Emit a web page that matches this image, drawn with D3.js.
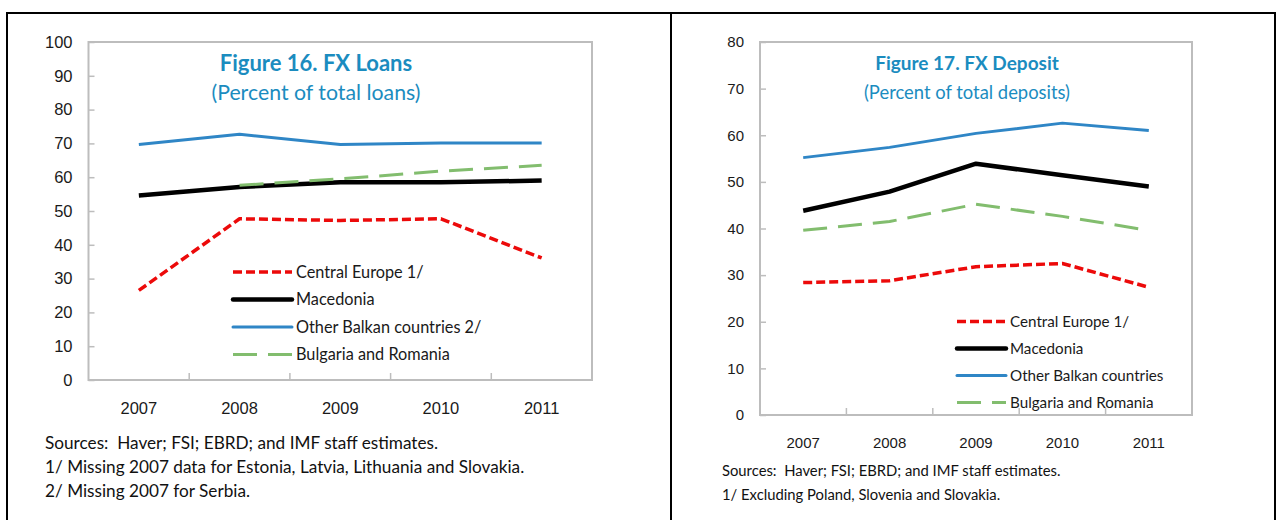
<!DOCTYPE html>
<html>
<head>
<meta charset="utf-8">
<script src="https://cdn.jsdelivr.net/npm/d3@7"></script>
<style>
  html, body { margin: 0; padding: 0; background: #fff; }
  svg { display: block; font-family: Lato, "Open Sans", sans-serif; }
</style>
</head>
<body>
<div id="chart"></div>
<script>
// Categories and values.
const years = ["2007", "2008", "2009", "2010", "2011"];

const loansCentralEurope = [26.5, 47.7, 47.2, 47.7, 36.1];
const loansMacedonia = [54.6, 57.1, 58.5, 58.5, 59.0];
const loansOtherBalkan = [69.7, 72.7, 69.7, 70.1, 70.1];
const loansBulgariaRomania = [null, 57.6, 59.5, 61.8, 63.5];

const depositsCentralEurope = [28.4, 28.8, 31.8, 32.5, 27.4];
const depositsMacedonia = [43.8, 47.9, 53.9, 51.4, 49.0];
const depositsOtherBalkan = [55.2, 57.4, 60.4, 62.6, 61.0];
const depositsBulgariaRomania = [39.6, 41.5, 45.2, 42.6, 39.6];

const loansTicks = [0, 10, 20, 30, 40, 50, 60, 70, 80, 90, 100];
const depositsTicks = [0, 10, 20, 30, 40, 50, 60, 70, 80];

const loansLegend = ["Central Europe 1/", "Macedonia", "Other Balkan countries 2/", "Bulgaria and Romania"];
const depositsLegend = ["Central Europe 1/", "Macedonia", "Other Balkan countries", "Bulgaria and Romania"];

const loansNotes = [
  "Sources:  Haver; FSI; EBRD; and IMF staff estimates.",
  "1/ Missing 2007 data for Estonia, Latvia, Lithuania and Slovakia.",
  "2/ Missing 2007 for Serbia."
];
const depositsNotes = [
  "Sources:  Haver; FSI; EBRD; and IMF staff estimates.",
  "1/ Excluding Poland, Slovenia and Slovakia."
];

// line styles, same order as the legends
const styles = [
  {color: "#ec0a0a", width: 3.5, dash: "9,4"},
  {color: "#000000", width: 4.5, dash: null},
  {color: "#2f86c6", width: 3, dash: null},
  {color: "#82bd6e", width: 3, dash: "24,11"}
];

const width = 1278;
const height = 520;
const titleColor = "#1b8cbf";

const svg = d3.select("#chart")
  .append("svg")
  .attr("width", width)
  .attr("height", height)
  .attr("viewBox", [0, 0, width, height]);

svg.append("rect").attr("width", width).attr("height", height).attr("fill", "#fff");

// outer frame (open at the bottom)
svg.append("path")
  .attr("d", "M7,520 V13 H1275 V520 M671,13 V520")
  .attr("fill", "none")
  .attr("stroke", "#000")
  .attr("stroke-width", 2);

function drawPanel(opt) {
  const f = opt.fonts;
  const g = svg.append("g");

  const x = d3.scaleBand()
    .domain(years)
    .range([opt.left, opt.right]);

  const y = d3.scaleLinear()
    .domain([0, opt.max])
    .range([opt.bottom, opt.top]);

  // plot area border
  g.append("rect")
    .attr("x", opt.left)
    .attr("y", opt.top)
    .attr("width", opt.right - opt.left)
    .attr("height", opt.bottom - opt.top)
    .attr("fill", "none")
    .attr("stroke", "#bdbdbd")
    .attr("stroke-width", 2);

  // y axis, ticks point into the plot
  const gy = g.append("g")
    .attr("transform", `translate(${opt.left},0)`)
    .call(d3.axisLeft(y).tickValues(opt.ticks).tickSize(-6).tickPadding(16).tickFormat(d3.format("d")));
  gy.select(".domain").remove();
  gy.selectAll(".tick line").attr("stroke", "#bdbdbd").attr("stroke-width", 1.5);
  gy.selectAll(".tick text")
    .attr("fill", "#1a1a1a")
    .style("font-size", f.tick + "px");

  // x axis labels under the band centres
  const gx = g.append("g")
    .attr("transform", `translate(0,${opt.xLabelY})`)
    .call(d3.axisBottom(x).tickSize(0).tickPadding(0));
  gx.select(".domain").remove();
  gx.selectAll(".tick text")
    .attr("y", 0)
    .attr("dy", "0.35em")
    .attr("fill", "#1a1a1a")
    .style("font-size", f.tick + "px");

  // inner ticks at band boundaries, pointing up
  g.append("g")
    .selectAll("line")
    .data(years.slice(1))
    .join("line")
      .attr("x1", d => x(d))
      .attr("x2", d => x(d))
      .attr("y1", opt.bottom)
      .attr("y2", opt.bottom - 7)
      .attr("stroke", "#bdbdbd")
      .attr("stroke-width", 1.5);

  const cx = d => x(d) + x.bandwidth() / 2;
  const line = d3.line()
    .defined(d => d.v != null)
    .x(d => cx(d.year))
    .y(d => y(d.v));

  styles.forEach((s, i) => {
    g.append("path")
      .datum(years.map((yr, j) => ({year: yr, v: opt.series[i][j]})))
      .attr("fill", "none")
      .attr("stroke", s.color)
      .attr("stroke-width", s.width)
      .attr("stroke-dasharray", s.dash)
      .attr("stroke-linejoin", "round")
      .attr("d", line);
  });

  // titles
  g.append("text")
    .attr("x", opt.titleX)
    .attr("y", 63)
    .attr("dy", "0.35em")
    .attr("text-anchor", "middle")
    .attr("fill", titleColor)
    .style("font-size", f.title + "px")
    .style("font-weight", "bold")
    .text(opt.title);
  g.append("text")
    .attr("x", opt.titleX)
    .attr("y", 93)
    .attr("dy", "0.35em")
    .attr("text-anchor", "middle")
    .attr("fill", titleColor)
    .style("font-size", f.subtitle + "px")
    .text(opt.subtitle);

  // legend
  const lg = g.append("g");
  opt.legend.forEach((name, i) => {
    const s = styles[i];
    const ly = opt.legendY + i * opt.legendStep;
    lg.append("line")
      .attr("x1", opt.legendX)
      .attr("x2", opt.legendX + opt.legendLen)
      .attr("y1", ly)
      .attr("y2", ly)
      .attr("stroke", s.color)
      .attr("stroke-width", s.width)
      .attr("stroke-dasharray", s.dash)
      .attr("stroke-linecap", s.dash ? "butt" : "round");
    lg.append("text")
      .attr("x", opt.legendX + opt.legendLen + 4)
      .attr("y", ly)
      .attr("dy", "0.35em")
      .attr("fill", "#1a1a1a")
      .style("font-size", f.legend + "px")
      .text(name);
  });

  // notes
  g.append("g")
    .selectAll("text")
    .data(opt.notes)
    .join("text")
      .attr("x", opt.notesX)
      .attr("y", (d, i) => opt.notesY + i * opt.notesStep)
      .attr("dy", "0.35em")
      .attr("fill", "#111")
      .attr("xml:space", "preserve")
      .style("white-space", "pre")
      .style("font-size", f.notes + "px")
      .text(d => d);
}

drawPanel({
  left: 88.5, right: 592, top: 42, bottom: 380, max: 100,
  ticks: loansTicks, xLabelY: 408,
  series: [loansCentralEurope, loansMacedonia, loansOtherBalkan, loansBulgariaRomania],
  title: "Figure 16. FX Loans",
  subtitle: "(Percent of total loans)",
  titleX: 316,
  legend: loansLegend,
  legendX: 233, legendLen: 59, legendY: 272, legendStep: 27.5,
  notes: loansNotes, notesX: 45, notesY: 442.5, notesStep: 24,
  fonts: {tick: 16.5, legend: 16.3, title: 22, subtitle: 21.3, notes: 17.2}
});

drawPanel({
  left: 760, right: 1192, top: 42, bottom: 415, max: 80,
  ticks: depositsTicks, xLabelY: 443,
  series: [depositsCentralEurope, depositsMacedonia, depositsOtherBalkan, depositsBulgariaRomania],
  title: "Figure 17. FX Deposit",
  subtitle: "(Percent of total deposits)",
  titleX: 967,
  legend: depositsLegend,
  legendX: 957, legendLen: 49, legendY: 321.5, legendStep: 27,
  notes: depositsNotes, notesX: 722, notesY: 470.5, notesStep: 24.5,
  fonts: {tick: 15, legend: 15.2, title: 19, subtitle: 18.4, notes: 14.8}
});
</script>
</body>
</html>
